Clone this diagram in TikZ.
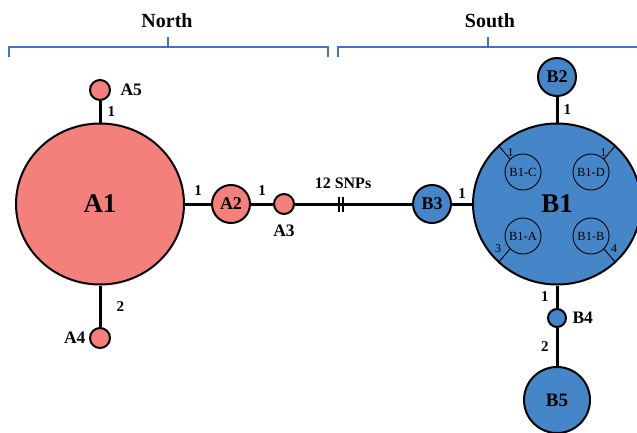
\documentclass[tikz,border=0pt]{standalone}
\usepackage{fontspec}
\setmainfont{Liberation Serif}
\usetikzlibrary{shapes.geometric}
\definecolor{hapsalmon}{RGB}{243,128,122}
\definecolor{hapblue}{RGB}{68,134,200}
\definecolor{braceblue}{RGB}{68,114,196}

\tikzset{
  hap/.style={circle, draw, line width=2pt, inner sep=0pt, font=\bfseries\fontsize{18}{18}\selectfont},
  hapA/.style={hap, fill=hapsalmon},
  hapB/.style={hap, fill=hapblue},
  bighap/.style={ellipse, minimum width=168pt, minimum height=161pt, font=\bfseries\fontsize{27}{27}\selectfont},
  subhap/.style={circle, draw, line width=0.9pt, minimum size=36pt, inner sep=0pt, font=\fontsize{12.5}{12.5}\selectfont},
  edge/.style={line width=3pt},
  spoke/.style={line width=0.9pt},
  num/.style={font=\bfseries\fontsize{15}{15}\selectfont, inner sep=2pt},
  subnum/.style={font=\fontsize{12}{12}\selectfont, inner sep=1pt},
  tag/.style={font=\bfseries\fontsize{17.5}{17.5}\selectfont},
  grp/.style={font=\bfseries\fontsize{20}{20}\selectfont},
  brace/.style={braceblue, line width=1.4pt}
}

\begin{document}
\begin{tikzpicture}[x=1pt,y=-1pt]
\useasboundingbox (0,0) rectangle (637,432);

% regions
\draw[brace] (9,57) |- (328,47) -- (328,57); \draw[brace] (168,47) -- (168,37);
\draw[brace] (338,57) |- (645,47); \draw[brace] (488,47) -- (488,37);
\node[grp] (north) at (167,21) {North};
\node[grp] (south) at (490,21) {South};

% North haplotypes
\node[hapA, bighap] (a1) at (100,204) {A1};
\node[hapA, minimum size=20pt, label={[tag,label distance=6pt]right:A5}] (a5) at (100,90) {};
\node[hapA, minimum size=20pt, label={[tag,label distance=0pt]left:A4}] (a4) at (100,338) {};
\node[hapA, minimum size=38pt] (a2) at (231,204) {A2};
\node[hapA, minimum size=20pt, label={[tag,label distance=6pt]below:A3}] (a3) at (284,204) {};

% South haplotypes
\node[hapB, bighap] (b1) at (557,204) {B1};
\node[hapB, minimum size=38pt] (b2) at (557,77) {B2};
\node[hapB, minimum size=38pt] (b3) at (432,204) {B3};
\node[hapB, minimum size=18pt, label={[tag,label distance=2pt]right:B4}] (b4) at (557,318) {};
\node[hapB, minimum size=66pt, font=\bfseries\fontsize{19}{19}\selectfont] (b5) at (557,400) {B5};

% inside B1
\node[subhap] (b1c) at (523,172) {B1-C};
\node[subhap] (b1d) at (591,172) {B1-D};
\node[subhap] (b1a) at (523,236) {B1-A};
\node[subhap] (b1b) at (591,236) {B1-B};
\draw[spoke] (b1c.135) -- node[subnum, pos=0.5, right=2pt] {1} (b1.135);
\draw[spoke] (b1d.45) -- node[subnum, pos=0.5, left=2pt] {1} (b1.45);
\draw[spoke] (b1a.225) -- node[subnum, pos=0.5, above left=1.5pt] {3} (b1.225);
\draw[spoke] (b1b.315) -- node[subnum, pos=0.4, above right=1pt] {4} (b1.315);

% links
\draw[edge] (a1) -- node[num, right=4pt] {1} (a5);
\draw[edge] (a1) -- node[num, right=13pt] {2} (a4);
\draw[edge] (a1) -- node[num, above=5pt] {1} (a2);
\draw[edge] (a2) -- node[num, above=5pt] {1} (a3);
\draw[edge] (a3) -- (b3);
\draw[edge] (b3) -- node[num, above=2pt] {1} (b1);
\draw[edge] (b1) -- node[num, right=3pt] {1} (b2);
\draw[edge] (b1) -- node[num, left=5pt] {1} (b4);
\draw[edge] (b4) -- node[num, left=5pt] {2} (b5);

% break between North and South
\coordinate (gap) at (341,204);
\draw[line width=2pt] ([xshift=-1.7pt,yshift=7.5pt]gap) -- ([xshift=-1.7pt,yshift=-7.5pt]gap);
\draw[line width=2pt] ([xshift=1.7pt,yshift=7.5pt]gap) -- ([xshift=1.7pt,yshift=-7.5pt]gap);
\node[num, font=\bfseries\fontsize{16}{16}\selectfont] (snps) at (343,183) {12 SNPs};
\end{tikzpicture}
\end{document}
